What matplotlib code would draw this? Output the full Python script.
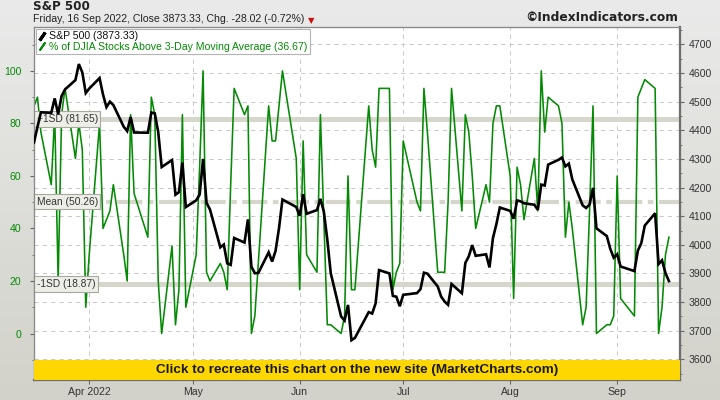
import matplotlib
matplotlib.use("Agg")
import matplotlib.pyplot as plt
import numpy as np
from matplotlib.colors import LinearSegmentedColormap
from matplotlib.lines import Line2D
from matplotlib.patches import Rectangle
from matplotlib.ticker import MultipleLocator

# ---- data --------------------------------------------------------------
dates = [
    "2022-03-16", "2022-03-17", "2022-03-18", "2022-03-21", "2022-03-22", "2022-03-23",
    "2022-03-24", "2022-03-25", "2022-03-28", "2022-03-29", "2022-03-30", "2022-03-31",
    "2022-04-01", "2022-04-04", "2022-04-05", "2022-04-06", "2022-04-07", "2022-04-08",
    "2022-04-11", "2022-04-12", "2022-04-13", "2022-04-14", "2022-04-18", "2022-04-19",
    "2022-04-20", "2022-04-21", "2022-04-22", "2022-04-25", "2022-04-26", "2022-04-27",
    "2022-04-28", "2022-04-29", "2022-05-02", "2022-05-03", "2022-05-04", "2022-05-05",
    "2022-05-06", "2022-05-09", "2022-05-10", "2022-05-11", "2022-05-12", "2022-05-13",
    "2022-05-16", "2022-05-17", "2022-05-18", "2022-05-19", "2022-05-20", "2022-05-23",
    "2022-05-24", "2022-05-25", "2022-05-26", "2022-05-27", "2022-05-31", "2022-06-01",
    "2022-06-02", "2022-06-03", "2022-06-06", "2022-06-07", "2022-06-08", "2022-06-09",
    "2022-06-10", "2022-06-13", "2022-06-14", "2022-06-15", "2022-06-16", "2022-06-17",
    "2022-06-21", "2022-06-22", "2022-06-23", "2022-06-24", "2022-06-27", "2022-06-28",
    "2022-06-29", "2022-06-30", "2022-07-01", "2022-07-05", "2022-07-06", "2022-07-07",
    "2022-07-08", "2022-07-11", "2022-07-12", "2022-07-13", "2022-07-14", "2022-07-15",
    "2022-07-18", "2022-07-19", "2022-07-20", "2022-07-21", "2022-07-22", "2022-07-25",
    "2022-07-26", "2022-07-27", "2022-07-28", "2022-07-29", "2022-08-01", "2022-08-02",
    "2022-08-03", "2022-08-04", "2022-08-05", "2022-08-08", "2022-08-09", "2022-08-10",
    "2022-08-11", "2022-08-12", "2022-08-15", "2022-08-16", "2022-08-17", "2022-08-18",
    "2022-08-19", "2022-08-22", "2022-08-23", "2022-08-24", "2022-08-25", "2022-08-26",
    "2022-08-29", "2022-08-30", "2022-08-31", "2022-09-01", "2022-09-02", "2022-09-06",
    "2022-09-07", "2022-09-08", "2022-09-09", "2022-09-12", "2022-09-13", "2022-09-14",
    "2022-09-15", "2022-09-16",
]

spx_close = [
    4357.86, 4411.67, 4463.12, 4461.18, 4511.61, 4456.24, 4520.16, 4543.06, 4575.52, 4631.60,
    4602.45, 4530.41, 4545.86, 4582.64, 4525.12, 4481.15, 4500.21, 4488.28, 4412.53, 4397.45,
    4446.59, 4392.59, 4391.69, 4462.21, 4459.45, 4393.66, 4271.78, 4296.12, 4175.20, 4183.96,
    4287.50, 4131.93, 4155.38, 4175.48, 4300.17, 4146.87, 4123.34, 3991.24, 4001.05, 3935.18,
    3930.08, 4023.89, 4008.01, 4088.85, 3923.68, 3900.79, 3901.36, 3973.75, 3941.48, 3978.73,
    4057.84, 4158.24, 4132.15, 4101.23, 4176.82, 4108.54, 4121.43, 4160.68, 4115.77, 4017.82,
    3900.86, 3749.63, 3735.48, 3789.99, 3666.77, 3674.84, 3764.79, 3759.89, 3795.73, 3911.74,
    3900.11, 3821.55, 3818.83, 3785.38, 3825.33, 3831.39, 3845.08, 3902.62, 3899.38, 3854.43,
    3818.80, 3801.78, 3790.38, 3863.16, 3830.85, 3936.69, 3959.90, 3998.95, 3961.63, 3966.84,
    3921.05, 4023.61, 4072.43, 4130.29, 4118.63, 4091.19, 4155.17, 4151.94, 4145.19, 4140.06,
    4122.47, 4210.24, 4207.27, 4280.15, 4297.14, 4305.20, 4274.04, 4283.74, 4228.48, 4137.99,
    4128.73, 4140.77, 4199.12, 4057.66, 4030.61, 3986.16, 3955.00, 3966.85, 3924.26, 3908.19,
    3979.87, 4006.18, 4067.36, 4110.41, 3932.69, 3946.01, 3901.35, 3873.33,
]

pct_above_3dma = [
    86.67, 90.00, 76.67, 56.67, 83.33, 20.00, 83.33, 93.33, 66.67, 80.00,
    70.00, 10.00, 30.00, 80.00, 40.00, 43.33, 46.67, 56.67, 30.00, 20.00,
    83.33, 53.33, 36.67, 90.00, 83.33, 20.00, 0.00, 33.33, 3.33, 16.67,
    83.33, 10.00, 30.00, 63.33, 100.00, 23.33, 20.00, 26.67, 23.33, 16.67,
    56.67, 93.33, 83.33, 86.67, 0.00, 6.67, 26.67, 86.67, 73.33, 73.33,
    86.67, 100.00, 66.67, 16.67, 73.33, 30.00, 23.33, 83.33, 43.33, 3.33,
    3.33, 0.00, 6.67, 60.00, 16.67, 16.67, 86.67, 70.00, 63.33, 93.33,
    93.33, 16.67, 23.33, 26.67, 73.33, 50.00, 46.67, 93.33, 76.67, 23.33,
    23.33, 23.33, 50.00, 93.33, 46.67, 83.33, 76.67, 60.00, 40.00, 56.67,
    50.00, 80.00, 86.67, 86.67, 60.00, 13.33, 63.33, 56.67, 43.33, 66.67,
    46.67, 100.00, 76.67, 90.00, 86.67, 80.00, 36.67, 50.00, 40.00, 3.33,
    10.00, 46.67, 86.67, 0.00, 3.33, 3.33, 6.67, 60.00, 13.33, 6.67,
    90.00, 93.33, 96.67, 93.33, 0.00, 10.00, 30.00, 36.67,
]

sd_levels = [81.65, 50.26, 18.87]
sd_labels = ["+1SD (81.65)", "Mean (50.26)", "-1SD (18.87)"]

month_ticks = ["2022-04-01", "2022-05-01", "2022-06-01", "2022-07-01", "2022-08-01", "2022-09-01"]
month_labels = ["Apr 2022", "May", "Jun", "Jul", "Aug", "Sep"]
pct_ticks = [0, 20, 40, 60, 80, 100]
spx_ticks = list(range(3600, 4701, 100))

# ---- styling ------------------------------------------------------------
GREEN = "#058a05"
GRID = "#c8c8c8"
BAND = "#d6d6cc"
FRAME = "#8a8a8a"
SMALL = "Liberation Sans"

plt.rcParams["lines.scale_dashes"] = False

x = np.array(dates, dtype="datetime64[D]")
fig = plt.figure(figsize=(7.2, 4.0), dpi=100)

# background gradient
bg = fig.add_axes([0, 0, 1, 1], zorder=-10)
bg_cmap = LinearSegmentedColormap.from_list("bg", ["#eaeaea", "#d2d2ca"])
bg.imshow(np.linspace(0, 1, 200).reshape(-1, 1), aspect="auto", cmap=bg_cmap,
          extent=[0, 1, 0, 1])
bg.axis("off")

rect = [34 / 720, 20 / 400, 646 / 720, 353 / 400]

# base axes (S&P scale, grid); percent twin; top twin for the S&P line
ax = fig.add_axes(rect)
axp = ax.twinx()
axs = ax.twinx()

ax.set_facecolor("white")
ax.set_xlim(np.datetime64("2022-03-16"), np.datetime64("2022-09-19T05:00"))
ax.set_ylim(3527.7, 4761.1)
ax.yaxis.tick_right()
ax.set_yticks(spx_ticks)
ax.yaxis.set_minor_locator(MultipleLocator(50))
ax.set_xticks(np.array(month_ticks, dtype="datetime64[D]"))
ax.set_xticklabels(month_labels)
ax.grid(True, color=GRID, linewidth=0.7, linestyle=(0, (3, 3)))
ax.tick_params(axis="y", which="major", direction="out", length=3, pad=3,
               colors="#666666", labelcolor="#333333", labelsize=7.6)
ax.tick_params(axis="y", which="minor", direction="out", length=1.5, colors="#666666")
ax.tick_params(axis="x", direction="out", length=3, pad=2,
               colors="#666666", labelcolor="#333333", labelsize=7.6)
for lab in ax.get_xticklabels() + ax.get_yticklabels():
    lab.set_family(SMALL)

# percent axes: SD bands, green series, left ticks
axp.patch.set_visible(False)
axp.yaxis.tick_left()
axp.set_ylim(-17.7, 116.7)
axp.set_yticks(pct_ticks)
axp.yaxis.set_minor_locator(MultipleLocator(10))
axp.tick_params(axis="y", which="major", direction="out", length=3, pad=6,
                colors="#666666", labelcolor=GREEN, labelsize=7.6)
axp.tick_params(axis="y", which="minor", direction="out", length=1.5, colors="#666666")
for lab in axp.get_yticklabels():
    lab.set_family(SMALL)

axp.axhline(sd_levels[0], color=BAND, linewidth=3.6, zorder=1)
axp.axhline(sd_levels[1], color=BAND, linewidth=3.0, zorder=1,
            linestyle=(0, (18, 4, 4, 4)))
axp.axhline(sd_levels[2], color=BAND, linewidth=3.6, zorder=1)
for lvl, txt in zip(sd_levels, sd_labels):
    axp.text(0.004, lvl, txt, transform=axp.get_yaxis_transform(), ha="left", va="center",
             fontsize=7.4, family=SMALL, color="#333333", zorder=3,
             bbox=dict(boxstyle="square,pad=0.25", fc="#eeeee8", ec="#a8a8a0", lw=0.8))
axp.plot(x, pct_above_3dma, color=GREEN, linewidth=1.15, zorder=2)

# top axes: S&P line, legend, banner
axs.patch.set_visible(False)
axs.set_ylim(ax.get_ylim())
axs.yaxis.set_visible(False)
axs.plot(x, spx_close, color="black", linewidth=1.9, solid_joinstyle="miter", zorder=3)

for a in (ax, axp, axs):
    for side in ("top", "left"):
        a.spines[side].set_color(FRAME)
        a.spines[side].set_linewidth(0.8)
    for side in ("right", "bottom"):
        a.spines[side].set_color("#6e6e6e")
        a.spines[side].set_linewidth(1.5)

handles = [
    Line2D([], [], color="black", marker=(2, 2, -35), linestyle="none",
           markersize=7, markeredgewidth=2.2),
    Line2D([], [], color=GREEN, marker=(2, 2, -35), linestyle="none",
           markersize=7, markeredgewidth=1.4),
]
leg = axs.legend(handles, ["S&P 500 (3873.33)",
                           "% of DJIA Stocks Above 3-Day Moving Average (36.67)"],
                 loc="upper left", bbox_to_anchor=(0.0, 1.0), borderaxespad=0.15,
                 frameon=True, fancybox=False, framealpha=1, edgecolor="#b4b4b4",
                 prop={"family": SMALL, "size": 7.6}, handlelength=0.7,
                 handletextpad=0.35, labelspacing=0.05, borderpad=0.25,
                 labelcolor=["#111111", GREEN])
leg.get_frame().set_linewidth(0.8)
leg.set_zorder(10)

band_h = 20 / 353
axs.add_patch(Rectangle((0, 0), 1, band_h, transform=axs.transAxes,
                        facecolor="#ffd700", edgecolor="none", zorder=8))
axs.text(0.5, band_h / 2, "Click to recreate this chart on the new site (MarketCharts.com)",
         transform=axs.transAxes, ha="center", va="center", fontsize=9.7,
         fontweight="bold", family=SMALL, color="#1a1a1a", zorder=9)

# header texts
fig.text(33 / 720, 1 - 0.5 / 400, "S&P 500", ha="left", va="top", fontsize=8.6,
         fontweight="bold", family="DejaVu Sans", color="#222222")
fig.text(33 / 720, 1 - 14 / 400, "Friday, 16 Sep 2022, Close 3873.33, Chg. -28.02 (-0.72%)",
         ha="left", va="top", fontsize=7.6, family=SMALL, color="#222222")
fig.text(308 / 720, 1 - 16.5 / 400, "\u25bc", ha="left", va="top", fontsize=6,
         family="DejaVu Sans", color="#cc1010")
fig.text(678 / 720, 1 - 11 / 400, "\u00a9IndexIndicators.com", ha="right", va="top",
         fontsize=8.8, fontweight="bold", family="DejaVu Sans", color="#222222")

fig.savefig("out.png", dpi=100)
